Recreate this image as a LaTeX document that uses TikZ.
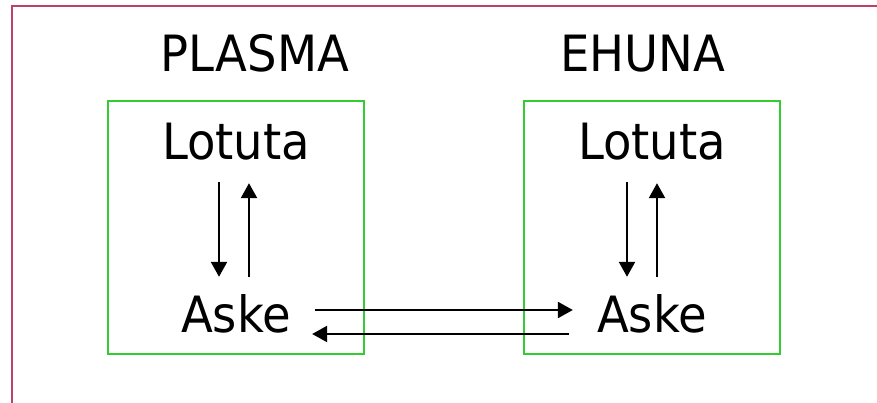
\documentclass[tikz,border=0pt]{standalone}
\usepackage{fontspec}
\setmainfont{DejaVu Sans}[FakeStretch=0.93]
\usetikzlibrary{arrows.meta}
\definecolor{framered}{RGB}{190,65,105}
\definecolor{boxgreen}{RGB}{51,204,51}
\tikzset{
  label text/.style={inner sep=0pt, anchor=base, text height=38pt, text depth=0pt,
    font=\fontsize{50}{60}\selectfont},
  compartment/.style={draw=boxgreen, line width=2.2pt},
  flow/.style={line width=2.3pt, -{Triangle[length=15pt,width=16pt]}},
}
\begin{document}
\begin{tikzpicture}[x=1pt,y=-1pt]
  \useasboundingbox (0,0) rectangle (877,403);
  % outer frame, running off the right and bottom edges
  \draw[framered, line width=2pt] (12,403) -- (12,6) -- (877,6);

  % the two compartments
  \draw[compartment] (108,101) rectangle (364,354);
  \draw[compartment] (524,101) rectangle (780,354);

  % headings
  \node[label text] (plasma) at (255,72) {PLASMA};
  \node[label text] (ehuna)  at (643,72) {EHUNA};

  % pools inside each compartment
  \node[label text] (lotL) at (236,160) {Lotuta};
  \node[label text] (askL) at (236,332) {Aske};
  \node[label text] (lotR) at (652,160) {Lotuta};
  \node[label text] (askR) at (652,332) {Aske};

  % exchange within the plasma
  \draw[flow] ([xshift=-17pt,yshift=-22pt]lotL.south) -- ([xshift=-17pt,yshift=17pt]askL.north);
  \draw[flow] ([xshift=13pt,yshift=17pt]askL.north) -- ([xshift=13pt,yshift=-23pt]lotL.south);

  % exchange within the tissue
  \draw[flow] ([xshift=-25pt,yshift=-22pt]lotR.south) -- ([xshift=-25pt,yshift=17pt]askR.north);
  \draw[flow] ([xshift=5pt,yshift=17pt]askR.north) -- ([xshift=5pt,yshift=-23pt]lotR.south);

  % exchange between the compartments
  \draw[flow] ([xshift=24pt,yshift=22pt]askL.base east) -- ([xshift=-24pt,yshift=22pt]askR.base west);
  \draw[flow] ([xshift=-28pt,yshift=-2pt]askR.base west) -- ([xshift=21pt,yshift=-2pt]askL.base east);
\end{tikzpicture}
\end{document}
